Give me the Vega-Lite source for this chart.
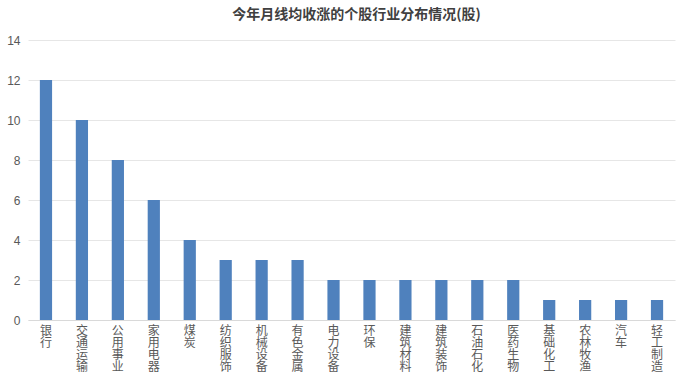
{
  "$schema": "https://vega.github.io/schema/vega-lite/v6.json",
  "width": 647,
  "height": 280,
  "autosize": {"type": "none"},
  "padding": {"left": 28, "top": 40, "right": 17, "bottom": 61},
  "background": "#ffffff",
  "title": {
    "text": "今年月线均收涨的个股行业分布情况(股)",
    "font": "Noto Sans CJK SC",
    "fontSize": 14,
    "fontWeight": "bold",
    "color": "#404040",
    "anchor": "middle",
    "dx": 5,
    "offset": 12
  },
  "data": {
    "values": [
      {"industry": "银行", "count": 12},
      {"industry": "交通运输", "count": 10},
      {"industry": "公用事业", "count": 8},
      {"industry": "家用电器", "count": 6},
      {"industry": "煤炭", "count": 4},
      {"industry": "纺织服饰", "count": 3},
      {"industry": "机械设备", "count": 3},
      {"industry": "有色金属", "count": 3},
      {"industry": "电力设备", "count": 2},
      {"industry": "环保", "count": 2},
      {"industry": "建筑材料", "count": 2},
      {"industry": "建筑装饰", "count": 2},
      {"industry": "石油石化", "count": 2},
      {"industry": "医药生物", "count": 2},
      {"industry": "基础化工", "count": 1},
      {"industry": "农林牧渔", "count": 1},
      {"industry": "汽车", "count": 1},
      {"industry": "轻工制造", "count": 1}
    ]
  },
  "mark": {"type": "bar", "color": "#4F81BD"},
  "encoding": {
    "x": {
      "field": "industry",
      "type": "nominal",
      "sort": null,
      "scale": {"paddingInner": 0.66, "paddingOuter": 0.33},
      "axis": {
        "title": null,
        "labelAngle": 0,
        "labelAlign": "center",
        "labelBaseline": "top",
        "labelExpr": "split(datum.label, '')",
        "labelFont": "Noto Sans CJK SC",
        "labelFontSize": 12,
        "labelLineHeight": 12,
        "labelColor": "#595959",
        "labelPadding": 5,
        "ticks": false,
        "domainColor": "#d9d9d9",
        "grid": false
      }
    },
    "y": {
      "field": "count",
      "type": "quantitative",
      "scale": {"domain": [0, 14], "nice": false},
      "axis": {
        "title": null,
        "values": [0, 2, 4, 6, 8, 10, 12, 14],
        "labelFont": "Liberation Sans",
        "labelFontSize": 12,
        "labelColor": "#595959",
        "labelPadding": 8,
        "ticks": false,
        "domain": false,
        "gridColor": "#e6e6e6"
      }
    }
  },
  "config": {"view": {"stroke": null}}
}
